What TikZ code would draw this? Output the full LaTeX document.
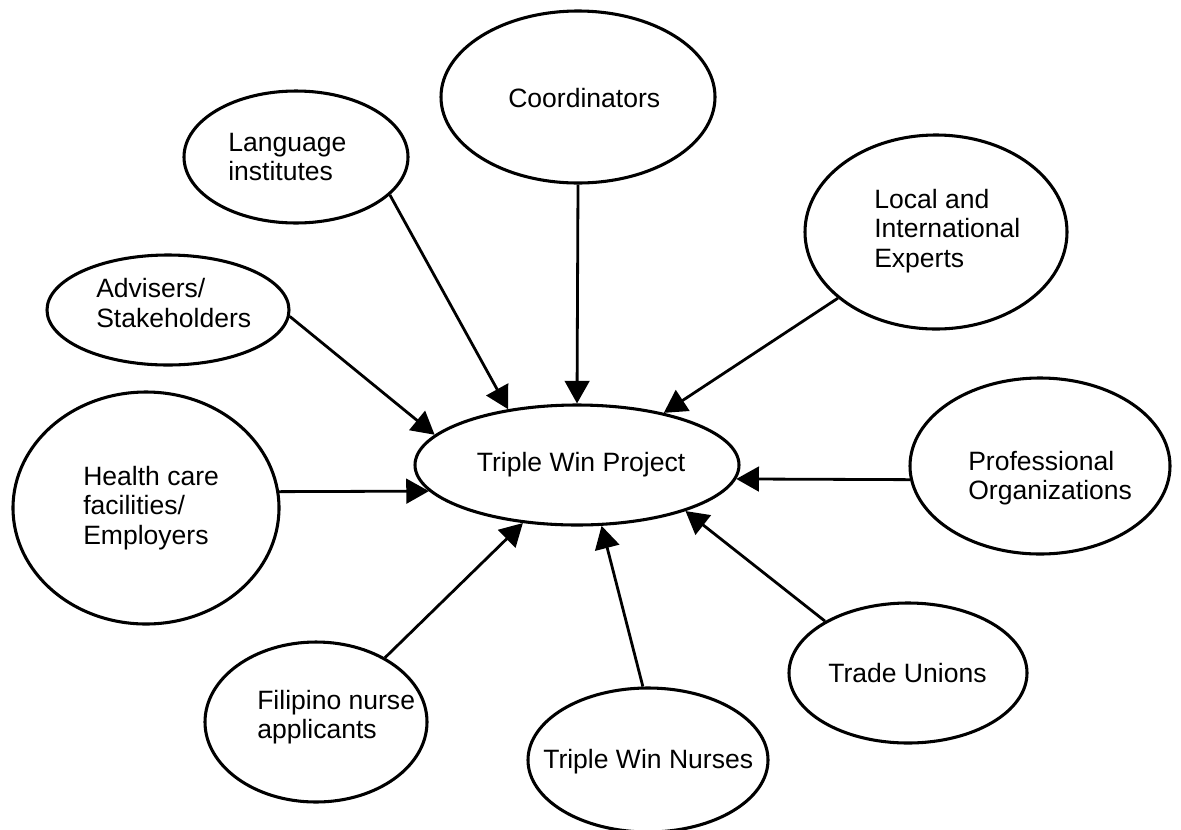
\documentclass[tikz,border=0pt]{standalone}
\usepackage{fontspec}
\setmainfont{Liberation Sans}
\usetikzlibrary{shapes.geometric,arrows.meta}
\tikzset{
  blob/.style={ellipse, draw, line width=2.3pt, inner sep=0pt},
  txt/.style={anchor=west, align=left, inner sep=0pt, font=\fontsize{19.9pt}{22pt}\selectfont},
  arr/.style={line width=2.1pt, -{Triangle[length=17pt,width=18.5pt]}}
}
\begin{document}
\begin{tikzpicture}[x=0.75pt, y=-0.75pt]
  \useasboundingbox (0,0) rectangle (1181,829);
  % ellipses
  \node[blob, minimum width=243pt, minimum height=90pt] (proj) at (577,465) {};
  \node[blob, minimum width=205.5pt, minimum height=129pt] (coord) at (578,97) {};
  \node[blob, minimum width=168pt, minimum height=99pt] (lang) at (296,157) {};
  \node[blob, minimum width=196.5pt, minimum height=145.5pt] (local) at (936,232) {};
  \node[blob, minimum width=181.5pt, minimum height=82.5pt] (adv) at (168,310) {};
  \node[blob, minimum width=199.5pt, minimum height=174pt] (health) at (146,508) {};
  \node[blob, minimum width=195pt, minimum height=132pt] (prof) at (1040,466) {};
  \node[blob, minimum width=178.5pt, minimum height=105pt] (trade) at (908,673) {};
  \node[blob, minimum width=180pt, minimum height=108pt] (nurses) at (648,760) {};
  \node[blob, minimum width=166.5pt, minimum height=120pt] (filip) at (316,722) {};
  % labels
  \node[txt, anchor=center] (projt) at (581,465) {Triple Win Project};
  \node[txt] (coordt) at (508,98) {Coordinators};
  \node[txt] (langt) at (228,157) {Language\\institutes};
  \node[txt] (localt) at (874,231) {Local and\\International\\Experts};
  \node[txt] (advt) at (96,303) {Advisers/\\Stakeholders};
  \node[txt] (healtht) at (83,508) {Health care\\facilities/\\Employers};
  \node[txt] (proft) at (968,478) {Professional\\Organizations};
  \node[txt] (tradet) at (828,673) {Trade Unions};
  \node[txt] (nursest) at (543,762) {Triple Win Nurses};
  \node[txt] (filipt) at (257,717) {Filipino nurse\\applicants};
  % arrows into the project
  \foreach \a/\b in {lang.-22/proj.141, coord.south/proj.north, local.214/proj.31,
      adv.-3/proj.168, health.7/proj.190, prof.186/proj.-5, trade.148/proj.-23,
      nurses.94/proj.-68, filip.43/proj.-133}
    \draw[arr] (\a) -- (\b);
\end{tikzpicture}
\end{document}
